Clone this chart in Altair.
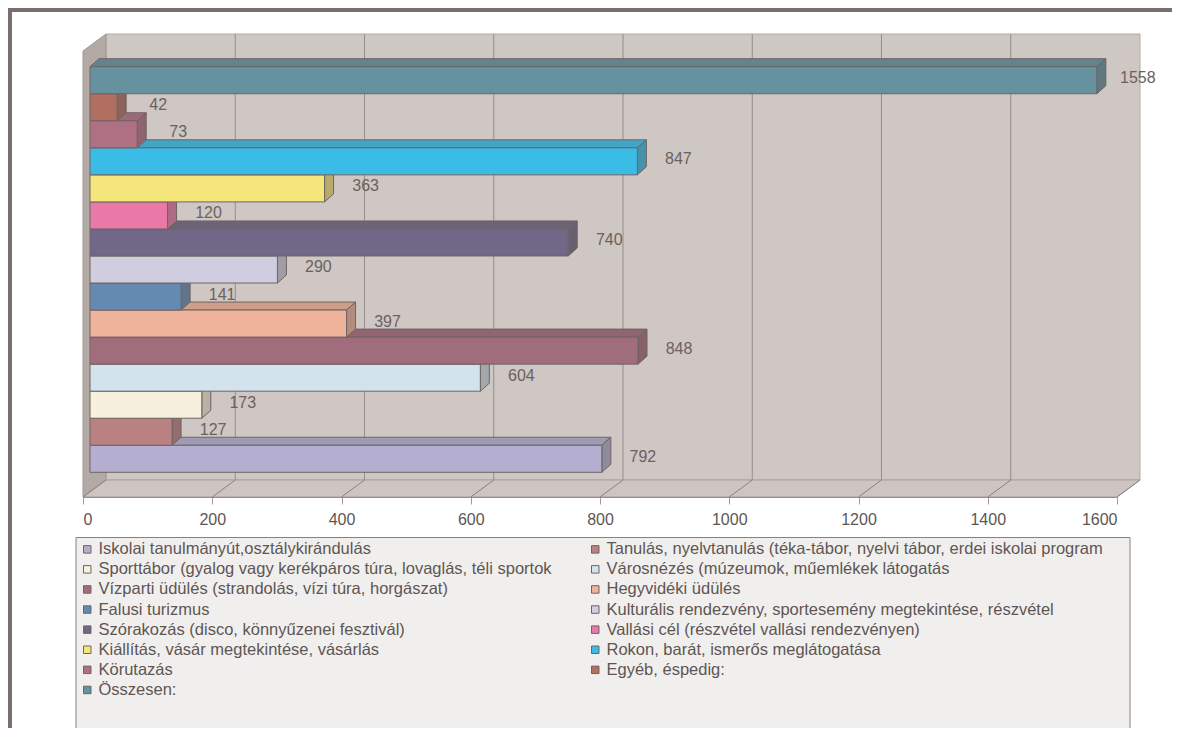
import altair as alt
import pandas as pd

# ---------------- data ----------------
categories = [
    "Iskolai tanulmányút,osztálykirándulás",
    "Tanulás, nyelvtanulás (téka-tábor, nyelvi tábor, erdei iskolai program",
    "Sporttábor (gyalog vagy kerékpáros túra, lovaglás, téli sportok",
    "Városnézés (múzeumok, műemlékek látogatás",
    "Vízparti üdülés (strandolás, vízi túra, horgászat)",
    "Hegyvidéki üdülés",
    "Falusi turizmus",
    "Kulturális rendezvény, sportesemény megtekintése, részvétel",
    "Szórakozás (disco, könnyűzenei fesztivál)",
    "Vallási cél (részvétel vallási rendezvényen)",
    "Kiállítás, vásár megtekintése, vásárlás",
    "Rokon, barát, ismerős meglátogatása",
    "Körutazás",
    "Egyéb, éspedig:",
    "Összesen:",
]
values = [792, 127, 173, 604, 848, 397, 141, 290, 740, 120, 363, 847, 73, 42, 1558]
colors = ["#b4afd0", "#ba8183", "#f6f0dc", "#d2e3ed", "#a16c7b", "#efb39c",
          "#648ab1", "#d1cde0", "#716786", "#e97aa8", "#f4e67b", "#3bbce6",
          "#b07084", "#b06f60", "#66929f"]
tick_values = [0, 200, 400, 600, 800, 1000, 1200, 1400, 1600]

# ---------------- layout / style constants ----------------
FONT = "Liberation Sans"
TXT = "#5e5654"
LBL = "#6a6260"
EDGE = "#6e6462"
W, H = 1034, 446
XMAX = 1600
N = len(values)
PAD_B, PAD_T = 0.9135, 0.5806
Y0, Y1 = -PAD_B, N + PAD_T
KX = XMAX / W                  # data units per pixel (x)
KY = (Y1 - Y0) / H             # data units per pixel (y)
DXW, DYW = 23 * KX, 17 * KY    # wall depth
DXB, DYB = 9 * KX, 8 * KY      # bar depth
BAR_SHIFT = 7                  # px, bars sit a bit behind the front plane


def shade(hexcol, f, toward=(90, 82, 80)):
    r, g, b = (int(hexcol[i:i + 2], 16) for i in (1, 3, 5))
    r, g, b = (round(c * (1 - f) + t * f) for c, t in zip((r, g, b), toward))
    return "#%02x%02x%02x" % (r, g, b)


xs = alt.Scale(domain=[0, XMAX], nice=False, zero=False)
ys = alt.Scale(domain=[Y0, Y1], nice=False, zero=False)

# ---------------- walls ----------------
back = pd.DataFrame({"x": [DXW], "x2": [XMAX + DXW], "y": [Y0 + DYW], "y2": [Y1 + DYW]})
back_wall = alt.Chart(back).mark_rect(fill="#cfc7c4", stroke="#b3aaa7", strokeWidth=1).encode(
    x=alt.X("x:Q", scale=xs, axis=alt.Axis(
        values=tick_values, grid=False, domain=True, domainColor="#857b78",
        ticks=True, tickSize=7, tickColor="#a39a97", labelFont=FONT,
        labelFontSize=16, labelColor=TXT, labelPadding=7, title=None,
        format="d")),
    x2="x2:Q",
    y=alt.Y("y:Q", scale=ys, axis=None),
    y2="y2:Q",
)

left = pd.DataFrame({"x": [0, DXW], "y": [Y0, Y0 + DYW], "y2": [Y1, Y1 + DYW]})
left_wall = alt.Chart(left).mark_area(
    orient="vertical", fill="#b3aaa6", stroke="#a09693", strokeWidth=1
).encode(
    x=alt.X("x:Q", scale=xs),
    y=alt.Y("y:Q", scale=ys, stack=None),
    y2="y2:Q",
)

floor = pd.DataFrame({
    "x": [0, DXW, XMAX, XMAX + DXW],
    "y": [Y0, Y0, Y0, Y0 + DYW],
    "y2": [Y0, Y0 + DYW, Y0 + DYW, Y0 + DYW],
})
floor_wall = alt.Chart(floor).mark_area(
    orient="vertical", fill="#cdc5c1", stroke="#a89f9c", strokeWidth=1
).encode(
    x=alt.X("x:Q", scale=xs),
    y=alt.Y("y:Q", scale=ys, stack=None),
    y2="y2:Q",
)

grid = pd.DataFrame({"x": [v + DXW for v in tick_values[1:-1]]})
grid["y"], grid["y2"] = Y0 + DYW, Y1 + DYW
grid_lines = alt.Chart(grid).mark_rule(color="#968c89", strokeWidth=1).encode(
    x=alt.X("x:Q", scale=xs), y=alt.Y("y:Q", scale=ys), y2="y2:Q"
)

slants = pd.DataFrame({"x": tick_values, "x2": [v + DXW for v in tick_values]})
slants["y"], slants["y2"] = Y0, Y0 + DYW
floor_lines = alt.Chart(slants).mark_rule(color="#8a807d", strokeWidth=1).encode(
    x=alt.X("x:Q", scale=xs), x2="x2:Q", y=alt.Y("y:Q", scale=ys), y2="y2:Q"
)

# ---------------- bars ----------------
front_rows, top_rows, side_rows = [], [], []
for i, (name, v, c) in enumerate(zip(categories, values, colors)):
    front_rows.append({"name": name, "v": v, "x0": 0, "y": i, "y2": i + 1,
                       "ly": i + 0.5})
    tc = shade(c, 0.22)
    for x, y, y2 in [(0, i + 1, i + 1), (DXB, i + 1, i + 1 + DYB),
                     (v, i + 1, i + 1 + DYB), (v + DXB, i + 1 + DYB, i + 1 + DYB)]:
        top_rows.append({"name": name, "x": x, "y": y, "y2": y2, "c": tc})
    sc = shade(c, 0.4)
    for x, y, y2 in [(v, i, i + 1), (v + DXB, i + DYB, i + 1 + DYB)]:
        side_rows.append({"name": name, "x": x, "y": y, "y2": y2, "c": sc})

front_df = pd.DataFrame(front_rows)
top_df = pd.DataFrame(top_rows)
side_df = pd.DataFrame(side_rows)

tops = alt.Chart(top_df).mark_area(
    orient="vertical", stroke=EDGE, strokeWidth=1, xOffset=BAR_SHIFT, strokeJoin="miter"
).encode(
    x=alt.X("x:Q", scale=xs),
    y=alt.Y("y:Q", scale=ys, stack=None),
    y2="y2:Q",
    fill=alt.Fill("c:N", scale=None),
    detail="name:N",
)

sides = alt.Chart(side_df).mark_area(
    orient="vertical", stroke=EDGE, strokeWidth=1, xOffset=BAR_SHIFT, strokeJoin="miter"
).encode(
    x=alt.X("x:Q", scale=xs),
    y=alt.Y("y:Q", scale=ys, stack=None),
    y2="y2:Q",
    fill=alt.Fill("c:N", scale=None),
    detail="name:N",
)

fronts = alt.Chart(front_df).mark_rect(
    stroke=EDGE, strokeWidth=1, opacity=1, xOffset=BAR_SHIFT, x2Offset=BAR_SHIFT
).encode(
    x=alt.X("x0:Q", scale=xs),
    x2="v:Q",
    y=alt.Y("y:Q", scale=ys),
    y2="y2:Q",
    color=alt.Color(
        "name:N",
        scale=alt.Scale(domain=categories, range=colors),
        legend=alt.Legend(
            title=None, orient="none", legendX=-7, legendY=487, columns=2,
            direction="horizontal",
            symbolType="square", symbolSize=56, symbolStrokeColor=EDGE,
            symbolStrokeWidth=1, labelFont=FONT, labelFontSize=16.5,
            labelColor=TXT, labelLimit=2000, columnPadding=35, rowPadding=3.1,
            padding=3, labelOffset=3, gridAlign="each", symbolOpacity=1,
        ),
    ),
)

labels = alt.Chart(front_df).mark_text(
    align="center", baseline="middle", font=FONT, fontSize=16, color=LBL,
    xOffset=BAR_SHIFT + 41, yOffset=-2,
).encode(
    x=alt.X("v:Q", scale=xs),
    y=alt.Y("ly:Q", scale=ys),
    text="v:Q",
)

# ---------------- outer frame (top and left edges) and legend box ----------------
frame_df = pd.DataFrame({"k": [0]})
frame_top = alt.Chart(frame_df).mark_rect(fill="#7a6f6c").encode(
    x=alt.value(-75), x2=alt.value(1091), y=alt.value(-43), y2=alt.value(-39)
)
frame_left = alt.Chart(frame_df).mark_rect(fill="#7a6f6c").encode(
    x=alt.value(-75), x2=alt.value(-71), y=alt.value(-43), y2=alt.value(690)
)
legend_box = alt.Chart(frame_df).mark_rect(
    fill="#f1efed", stroke="#8a807d", strokeWidth=1
).encode(
    x=alt.value(-7), x2=alt.value(1047), y=alt.value(486.5), y2=alt.value(682)
)

chart = alt.layer(
    frame_top, frame_left, legend_box,
    back_wall, left_wall, floor_wall, grid_lines, floor_lines,
    tops, sides, fronts, labels,
).properties(
    width=W, height=H,
    autosize=alt.AutoSizeParams(type="none"),
    padding={"left": 75, "top": 43, "right": 55, "bottom": 231},
    background="white",
).configure_view(stroke=None)

chart.save("out.html", embed_options={"renderer": "svg", "actions": False})
